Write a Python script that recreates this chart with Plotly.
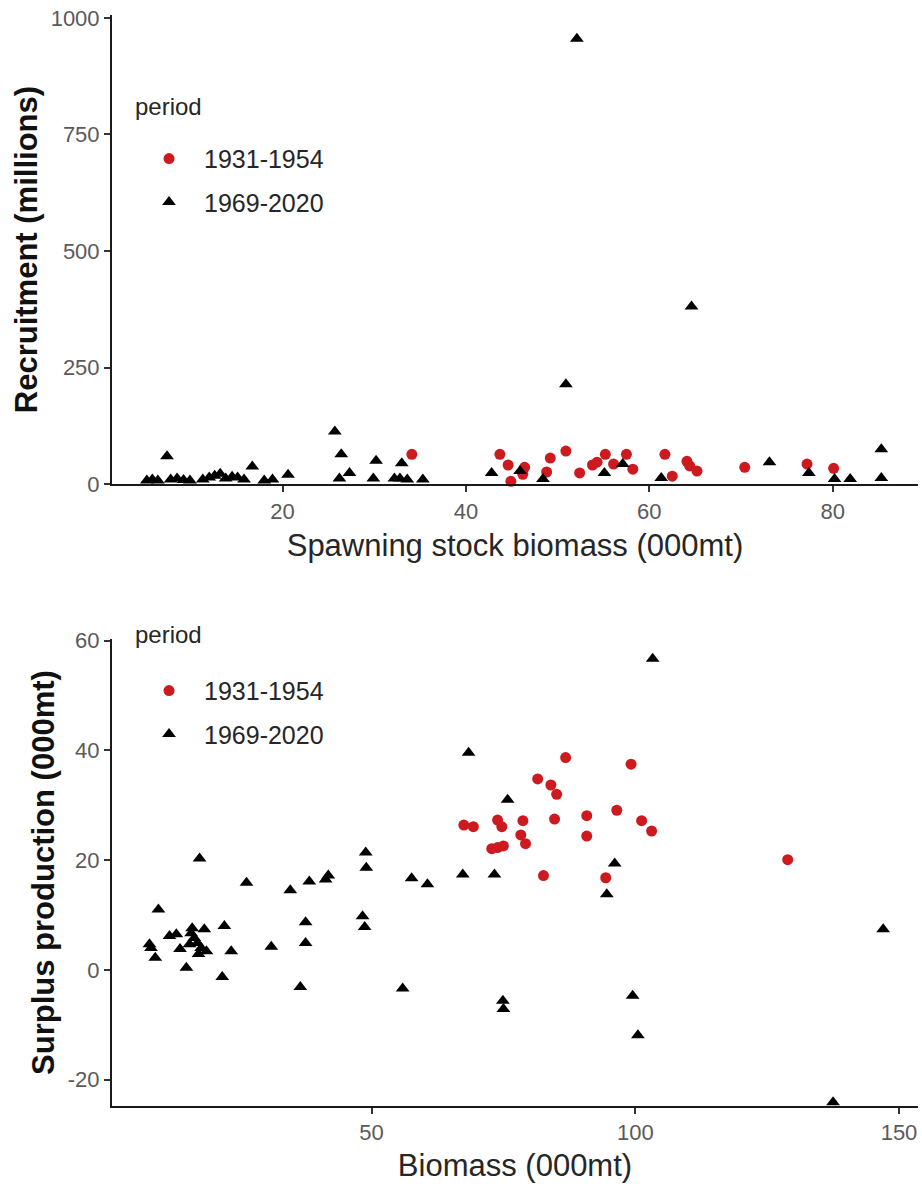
import plotly.graph_objects as go

# ---- Data ----
period_labels = ["1931-1954", "1969-2020"]
legend_title = "period"

# Top panel: spawning stock biomass (000mt) vs recruitment (millions)
ssb_early = [34.1, 43.7, 44.6, 44.9, 46.2, 46.4, 48.8, 49.2, 50.9, 52.4, 53.8, 54.3,
             55.2, 56.1, 57.5, 58.2, 61.7, 62.5, 64.1, 64.4, 65.2, 70.4, 77.2, 80.1]
rec_early = [64, 64, 41, 6, 21, 36, 26, 56, 71, 24, 41, 47,
             64, 43, 64, 32, 64, 17, 49, 39, 28, 36, 43, 34]

ssb_late = [5.2, 5.8, 6.4, 7.4, 7.8, 8.5, 9.2, 9.9, 11.3, 12.0, 12.6, 13.2, 13.8, 14.5,
            15.1, 15.8, 16.7, 18.0, 18.9, 20.6, 25.7, 26.2, 26.4, 27.3, 29.9, 30.2,
            32.2, 32.8, 33.0, 33.6, 35.3, 42.8, 45.9, 48.4, 50.9, 52.1, 55.1, 57.1,
            61.3, 64.6, 73.1, 77.4, 80.2, 81.9, 85.3, 85.3]
rec_late = [8, 10, 8, 60, 10, 12, 9, 8, 10, 14, 18, 22, 12, 16,
            14, 10, 38, 8, 10, 20, 113, 12, 64, 24, 12, 50,
            12, 12, 45, 10, 10, 24, 28, 11, 214, 955, 24, 43,
            13, 381, 47, 24, 11, 11, 75, 13]

# Bottom panel: biomass (000mt) vs surplus production (000mt)
bio_early = [67.5, 69.3, 72.8, 73.9, 73.9, 74.7, 75.0, 78.3, 78.7, 79.2, 81.5, 82.6,
             84.0, 84.7, 85.1, 86.8, 90.8, 90.8, 94.4, 96.5, 99.2, 101.2, 103.1, 128.9]
sp_early = [26.4, 26.1, 22.1, 27.3, 22.3, 26.1, 22.6, 24.6, 27.2, 23.0, 34.8, 17.2,
            33.7, 27.5, 32.0, 38.7, 28.1, 24.4, 16.8, 29.1, 37.5, 27.2, 25.3, 20.1]

bio_late = [7.9, 8.2, 9.0, 9.6, 11.7, 13.0, 13.7, 14.9, 15.5, 15.8, 16.0, 16.4, 17.0,
            17.2, 17.4, 17.7, 18.3, 18.7, 21.7, 22.1, 23.4, 26.3, 31.0, 34.6, 36.5,
            37.5, 37.5, 38.2, 41.3, 41.8, 48.3, 48.7, 48.9, 49.0, 55.9, 57.6, 60.6,
            67.3, 68.4, 73.3, 74.9, 75.0, 75.8, 94.6, 96.1, 99.5, 100.5, 103.3, 137.5, 147.0]
sp_late = [4.7, 4.0, 2.2, 11.0, 6.2, 6.5, 3.8, 0.4, 4.7, 6.7, 7.6, 5.8, 4.9,
           2.9, 20.3, 4.0, 7.4, 3.4, -1.3, 8.0, 3.4, 15.9, 4.2, 14.5, -3.1,
           8.7, 4.9, 16.1, 16.5, 17.2, 9.8, 7.8, 21.4, 18.6, -3.4, 16.7, 15.6,
           17.4, 39.6, 17.4, -5.6, -7.1, 31.0, 13.8, 19.4, -4.7, -11.9, 56.7, -24.1, 7.4]

top_xticks = [20, 40, 60, 80]
top_yticks = [0, 250, 500, 750, 1000]
bot_xticks = [50, 100, 150]
bot_yticks = [-20, 0, 20, 40, 60]

RED = "#CD1A1F"
BLACK = "#000000"
FONT = "Liberation Sans, Arial, sans-serif"
TICKCOL = "#5a5a5a"
TITLECOL = "#262626"

fig = go.Figure()

def add(x, y, name, color, symbol, size, xa, ya, leg, group):
    fig.add_trace(go.Scatter(
        x=x, y=y, mode="markers", name=name,
        marker=dict(color=color, symbol=symbol, size=size, line=dict(width=0)),
        xaxis=xa, yaxis=ya, legend=leg, legendgroup=group, cliponaxis=False,
    ))

add(ssb_early, rec_early, period_labels[0], RED, "circle", 11, "x", "y", "legend", "a1")
add(ssb_late, rec_late, period_labels[1], BLACK, "triangle-up", 12, "x", "y", "legend", "a2")
add(bio_early, sp_early, period_labels[0], RED, "circle", 11, "x2", "y2", "legend2", "b1")
add(bio_late, sp_late, period_labels[1], BLACK, "triangle-up", 12, "x2", "y2", "legend2", "b2")

axis_common = dict(
    showline=True, linecolor="#1a1a1a", linewidth=2, mirror=False,
    showgrid=False, zeroline=False,
    ticks="outside", ticklen=6, tickwidth=1.5, tickcolor="#333333",
    tickfont=dict(family=FONT, size=22, color=TICKCOL),
)

TOP_DOM = [0.570, 1.0]
BOT_DOM = [0.0, 0.428]
TITLE_SIZE = 31
LEG_X = 0.0236 + 3 / 806

legend_common = dict(
    font=dict(family=FONT, size=25, color=TITLECOL),
    xanchor="left", yanchor="top", x=LEG_X,
    bgcolor="rgba(255,255,255,0)", itemwidth=60, tracegroupgap=8,
)

fig.update_layout(
    width=922, height=1188,
    margin=dict(l=112, r=4, t=13, b=82),
    paper_bgcolor="white", plot_bgcolor="white",
    font=dict(family=FONT, color=TITLECOL),
    xaxis=dict(axis_common, domain=[0, 1], anchor="y", range=[1.4, 89.3],
               tickvals=top_xticks, ticktext=[str(v) for v in top_xticks],
               title=dict(text="Spawning stock biomass (000mt)",
                          font=dict(family=FONT, size=TITLE_SIZE, color=TITLECOL), standoff=12)),
    yaxis=dict(axis_common, domain=TOP_DOM, anchor="x", range=[0, 1006],
               tickvals=top_yticks, ticktext=[str(v) for v in top_yticks],
               title=dict(text="<b>Recruitment (millions)</b>",
                          font=dict(family=FONT, size=TITLE_SIZE, color="#111111"), standoff=4)),
    xaxis2=dict(axis_common, domain=[0, 1], anchor="y2", range=[0.8, 153.6],
                tickvals=bot_xticks, ticktext=[str(v) for v in bot_xticks],
                title=dict(text="Biomass (000mt)",
                           font=dict(family=FONT, size=TITLE_SIZE, color=TITLECOL), standoff=10)),
    yaxis2=dict(axis_common, domain=BOT_DOM, anchor="x2", range=[-24.8, 60.3],
                tickvals=bot_yticks, ticktext=[str(v) for v in bot_yticks],
                title=dict(text="<b>Surplus production (000mt)</b>",
                           font=dict(family=FONT, size=TITLE_SIZE, color="#111111"), standoff=4)),
    legend=dict(legend_common, y=(1106 - 134) / 1093),
    legend2=dict(legend_common, y=(1106 - 667) / 1093),
    annotations=[
        dict(text=legend_title, xref="paper", yref="paper", x=0.0236 + 2 / 806,
             y=(1106 - 105) / 1093, xanchor="left", yanchor="middle", showarrow=False,
             font=dict(family=FONT, size=24, color=TITLECOL)),
        dict(text=legend_title, xref="paper", yref="paper", x=0.0236 + 2 / 806,
             y=(1106 - 634) / 1093, xanchor="left", yanchor="middle", showarrow=False,
             font=dict(family=FONT, size=24, color=TITLECOL)),
    ],
)

fig.write_html("out.html")
